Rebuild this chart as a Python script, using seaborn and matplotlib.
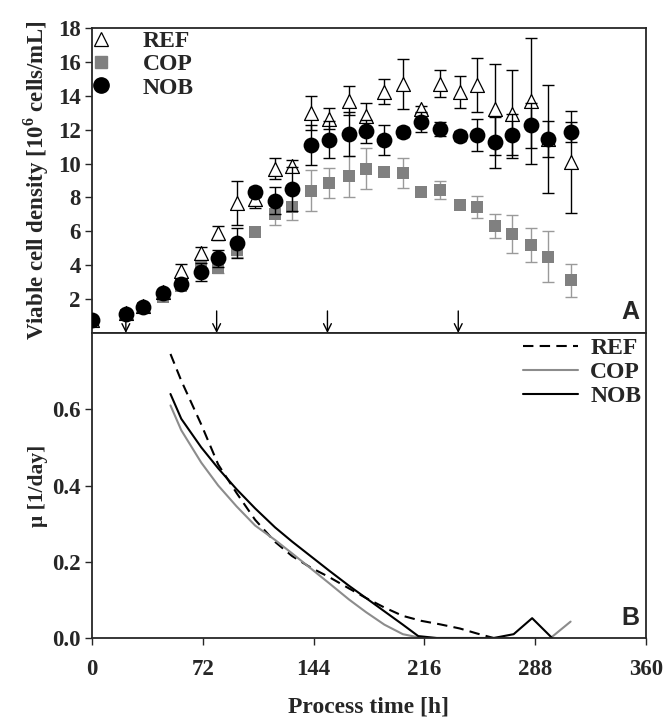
import numpy as np
import pandas as pd
import matplotlib
matplotlib.use("Agg")
import matplotlib.pyplot as plt
import seaborn as sns
from matplotlib.lines import Line2D

# ---------------- data ----------------
time_h = [0, 22, 33, 46, 58, 71, 82, 94, 106, 119, 130, 142, 154, 167, 178,
          190, 202, 214, 226, 239, 250, 262, 273, 285, 296, 311]

ref_vcd = [0.75, 1.2, 1.6, 2.4, 3.65, 4.75, 5.9, 7.7, 7.9, 9.7, 9.85, 13.0, 12.65, 13.7, 12.8,
           14.25, 14.7, 13.2, 14.7, 14.2, 14.65, 13.2, 12.95, 13.7, 11.45, 10.1]
ref_err = [0, 0, 0, 0, 0.45, 0.3, 0.4, 1.3, 0.5, 0.6, 0.35, 1.0, 0.6, 0.85, 0.75,
           0.75, 1.5, 0.2, 0.8, 0.95, 1.6, 2.7, 2.6, 3.7, 1.05, 3.0]

cop_vcd = [0.7, 1.05, 1.5, 2.15, 2.75, 4.0, 3.85, 4.9, 5.95, 7.0, 7.45, 8.4, 8.85, 9.25, 9.7,
           9.5, 9.45, 8.3, 8.45, 7.55, 7.45, 6.3, 5.85, 5.2, 4.5, 3.1]
cop_err = [0, 0, 0, 0, 0, 0.3, 0.3, 0.4, 0, 0.6, 0.8, 1.2, 0.9, 1.2, 1.2,
           0, 0.9, 0, 0.55, 0, 0.65, 0.7, 1.1, 1.0, 1.5, 0.95]

nob_vcd = [0.75, 1.15, 1.55, 2.35, 2.9, 3.6, 4.4, 5.3, 8.3, 7.8, 8.5, 11.1, 11.4, 11.75, 11.9,
           11.4, 11.85, 12.45, 12.05, 11.65, 11.7, 11.25, 11.7, 12.25, 11.45, 11.85]
nob_err = [0, 0, 0, 0, 0.3, 0.55, 0.5, 0.9, 0.3, 0.8, 1.3, 1.2, 1.1, 1.3, 0.7,
           0.9, 0.3, 0.6, 0.4, 0.3, 0.95, 1.5, 1.2, 1.35, 3.2, 0.6]

feed_times = [22, 81, 153, 238]

mu_ref_t = [51, 58, 71, 82, 94, 106, 119, 130, 142, 154, 167, 178, 190, 202, 214, 226, 239, 250, 261]
mu_ref = [0.745, 0.675, 0.56, 0.455, 0.38, 0.31, 0.252, 0.215, 0.185, 0.16, 0.13, 0.105, 0.08,
          0.058, 0.045, 0.036, 0.025, 0.012, 0.0]

mu_cop_t = [51, 58, 71, 82, 94, 106, 119, 130, 142, 154, 167, 178, 190, 202, 214, 226, 239,
            250, 262, 273, 285, 298, 311]
mu_cop = [0.61, 0.545, 0.46, 0.40, 0.345, 0.295, 0.257, 0.222, 0.183, 0.144, 0.101, 0.068,
          0.035, 0.01, 0.0, 0.0, 0.0, 0.0, 0.0, 0.0, 0.0, 0.0, 0.043]

mu_nob_t = [51, 58, 71, 82, 94, 106, 119, 130, 142, 154, 167, 178, 190, 202, 212, 224, 239,
            250, 261, 274, 286, 299]
mu_nob = [0.64, 0.575, 0.5, 0.445, 0.39, 0.34, 0.29, 0.253, 0.215, 0.177, 0.137, 0.105, 0.07,
          0.035, 0.005, 0.0, 0.0, 0.0, 0.0, 0.01, 0.052, 0.0]

x_ticks = [0, 72, 144, 216, 288, 360]

# ---------------- style ----------------
sns.set_style("ticks")
plt.rcParams['font.family'] = ['Liberation Serif', 'DejaVu Serif']
plt.rcParams['font.weight'] = 'bold'
plt.rcParams['axes.linewidth'] = 1.3
plt.rcParams['xtick.major.width'] = 1.0
plt.rcParams['ytick.major.width'] = 1.0
plt.rcParams['mathtext.fontset'] = 'custom'
plt.rcParams['mathtext.rm'] = 'Liberation Serif:bold'
plt.rcParams['mathtext.bf'] = 'Liberation Serif:bold'

TICK_FS = 16.5

fig = plt.figure(figsize=(6.65, 7.2), dpi=100)
L, R = 92 / 665, 646 / 665
ax1 = fig.add_axes([L, 1 - 333 / 720, R - L, (333 - 28) / 720])
ax2 = fig.add_axes([L, 1 - 638 / 720, R - L, (638 - 333) / 720])

GRAY = '#808080'
EGRAY = '#9a9a9a'

df = pd.DataFrame({'t': time_h, 'REF': ref_vcd, 'REFe': ref_err, 'COP': cop_vcd,
                   'COPe': cop_err, 'NOB': nob_vcd, 'NOBe': nob_err})


def ebars(col, color, z):
    sub = df[df[col + 'e'] > 0]
    ax1.errorbar(sub['t'], sub[col], yerr=sub[col + 'e'], fmt='none', ecolor=color,
                 elinewidth=1.0, capsize=4.5, capthick=1.0, zorder=z)


# COP
ebars('COP', EGRAY, 2)
sns.scatterplot(data=df, x='t', y='COP', ax=ax1, marker='s', s=80, color=GRAY,
                edgecolor=GRAY, linewidth=0, zorder=3)
# REF
ebars('REF', 'black', 4)
sns.scatterplot(data=df, x='t', y='REF', ax=ax1, marker='^', s=100, facecolor='white',
                edgecolor='black', linewidth=0.9, zorder=5)
# NOB
ebars('NOB', 'black', 6)
sns.scatterplot(data=df, x='t', y='NOB', ax=ax1, marker='o', s=130, color='black',
                edgecolor='black', linewidth=0, zorder=7)

ax1.set_xlim(0, 360)
ax1.set_ylim(0, 18)
ax1.set_yticks(range(2, 19, 2))
ax1.set_xticks([])
ax1.set_xlabel('')
ax1.set_ylabel(r'Viable cell density [10$^{6}$ cells/mL]', fontsize=16.5, fontweight='bold',
               labelpad=5)
ax1.tick_params(axis='y', direction='out', length=5, labelsize=TICK_FS, pad=3)
for lab in ax1.get_yticklabels():
    lab.set_fontweight('bold')

for ft in feed_times:
    ax1.annotate('', xy=(ft, 0.0), xytext=(ft, 1.3),
                 arrowprops=dict(arrowstyle='->', color='black', lw=1.0,
                                 shrinkA=0, shrinkB=0, mutation_scale=14))

h1 = [Line2D([], [], marker='^', ls='none', mfc='white', mec='black', ms=10, mew=0.9),
      Line2D([], [], marker='s', ls='none', mfc=GRAY, mec=GRAY, ms=8.5),
      Line2D([], [], marker='o', ls='none', mfc='black', mec='black', ms=11)]
leg1 = ax1.legend(h1, ['REF', 'COP', 'NOB'], loc='upper left', frameon=False,
                  prop={'size': 17, 'weight': 'bold'}, handletextpad=1.44,
                  borderaxespad=0.0, labelspacing=0.08, borderpad=0.1, handlelength=0.6)

ax1.text(0.988, 0.03, 'A', transform=ax1.transAxes, ha='right', va='bottom',
         fontsize=18, fontweight='bold', family='Liberation Sans')

# ---------------- bottom panel ----------------
dref = pd.DataFrame({'t': mu_ref_t, 'mu': mu_ref})
dcop = pd.DataFrame({'t': mu_cop_t, 'mu': mu_cop})
dnob = pd.DataFrame({'t': mu_nob_t, 'mu': mu_nob})

sns.lineplot(data=dref, x='t', y='mu', ax=ax2, color='black', lw=1.5,
             linestyle=(0, (5, 3)), label='REF', sort=False)
sns.lineplot(data=dcop, x='t', y='mu', ax=ax2, color='#8c8c8c', lw=1.5, label='COP',
             sort=False)
sns.lineplot(data=dnob, x='t', y='mu', ax=ax2, color='black', lw=1.5, label='NOB',
             sort=False)

ax2.set_xlim(0, 360)
ax2.set_ylim(0, 0.8)
ax2.set_xticks(x_ticks)
ax2.set_xticklabels([str(v) for v in x_ticks])
ax2.set_yticks([0.0, 0.2, 0.4, 0.6])
ax2.set_yticklabels(['0.0', '0.2', '0.4', '0.6'])
ax2.tick_params(axis='both', direction='out', length=5, labelsize=TICK_FS, pad=3)
ax2.tick_params(axis='x', pad=10)
for lab in ax2.get_xticklabels() + ax2.get_yticklabels():
    lab.set_fontweight('bold')
ax2.set_xlabel('Process time [h]', fontsize=17, fontweight='bold', labelpad=12)
ax2.set_ylabel('μ [1/day]', fontsize=15.5, fontweight='bold', labelpad=3)

ax2.legend(loc='upper right', frameon=False, prop={'size': 17, 'weight': 'bold'},
           handlelength=2.35, handletextpad=0.5, borderaxespad=0.0, labelspacing=0.1,
           borderpad=0.2)

ax2.text(0.988, 0.025, 'B', transform=ax2.transAxes, ha='right', va='bottom',
         fontsize=18, fontweight='bold', family='Liberation Sans')

for ax in (ax1, ax2):
    for s in ax.spines.values():
        s.set_visible(True)
        s.set_linewidth(1.3)

fig.savefig('out.png', dpi=100)
